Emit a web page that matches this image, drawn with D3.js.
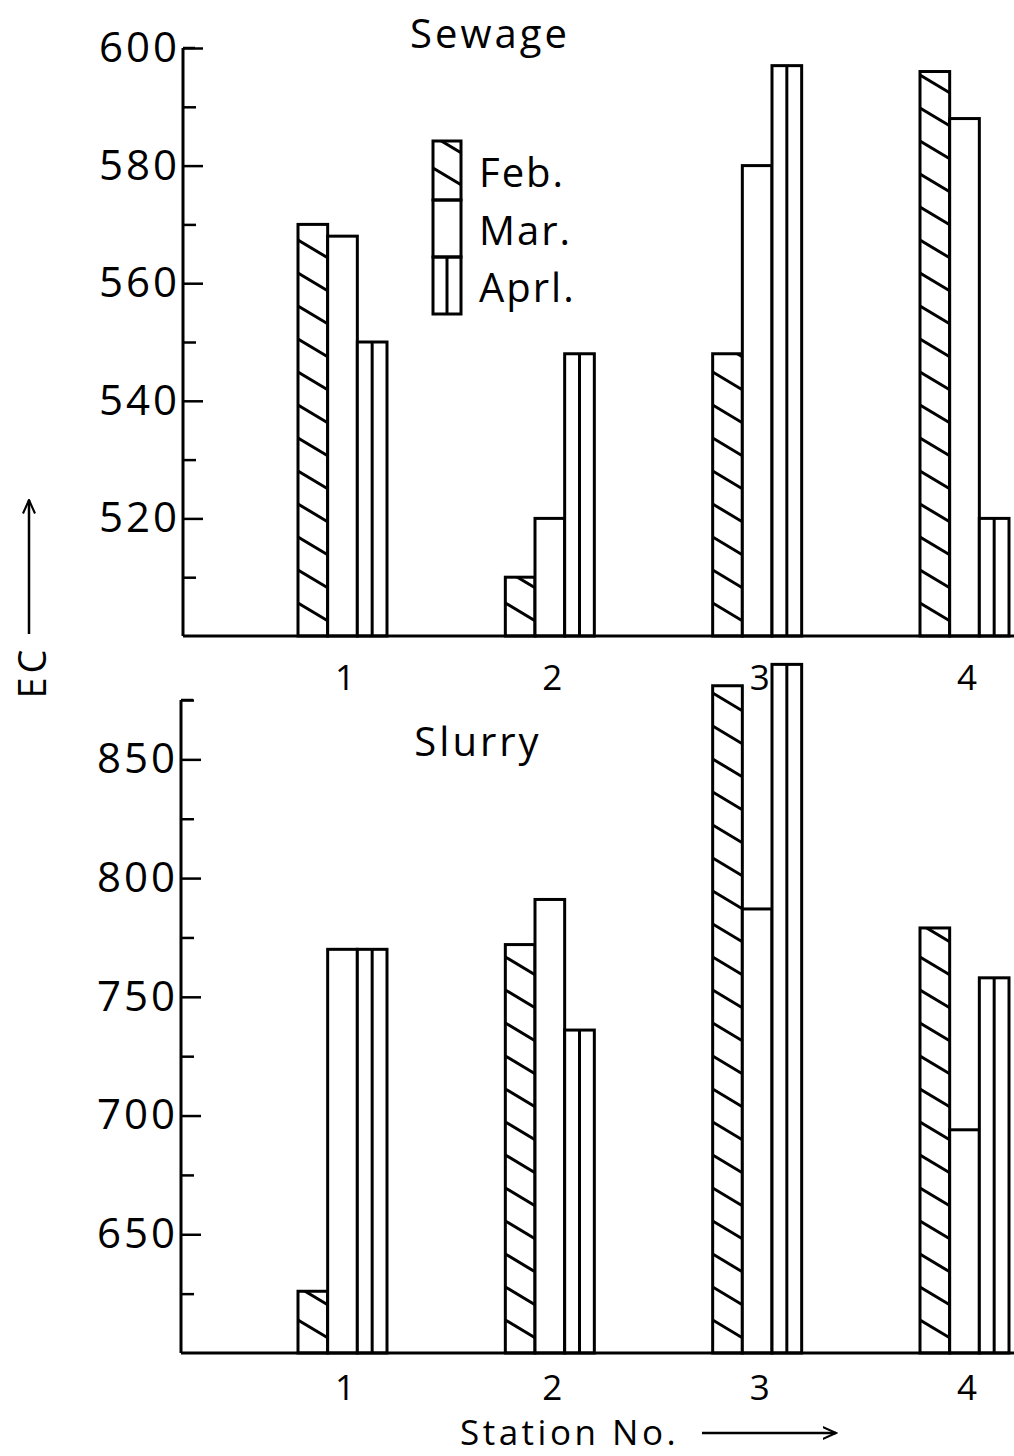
<!DOCTYPE html>
<html>
<head>
<meta charset="utf-8">
<script src="https://cdn.jsdelivr.net/npm/d3@7"></script>
<style>
  html, body { margin: 0; padding: 0; background: #fff; }
  svg { display: block; }
  text { font-family: "Open Sans", "DejaVu Sans", sans-serif; fill: #000; }
</style>
</head>
<body>
<svg id="chart" width="1014" height="1456"></svg>
<script>
// EC of sewage and slurry at four stations, February to April
const stations = ["1", "2", "3", "4"];
const months = ["Feb.", "Mar.", "Aprl."];

const sewageFeb = [570, 510, 548, 596];
const sewageMar = [568, 520, 580, 588];
const sewageApr = [550, 548, 597, 520];

const slurryFeb = [626, 772, 881, 779];
const slurryMar = [770, 791, 787, 694];
const slurryApr = [770, 736, 890, 758];

const sewageTicks = [520, 540, 560, 580, 600];
const sewageMinor = [510, 530, 550, 570, 590];
const slurryTicks = [650, 700, 750, 800, 850];
const slurryMinor = [625, 675, 725, 775, 825, 875];

const svg = d3.select("#chart");
const ink = "#000";

// station centres and the three month slots inside each group
const x = d3.scalePoint().domain(stations).range([342, 964]);
const xm = d3.scaleBand().domain(months).range([-44, 45]).padding(0);

const panels = [
  {
    title: "Sewage", titleX: 490, titleY: 32,
    y: d3.scaleLinear().domain([500, 600]).range([636, 48]),
    axisX: 183, baseRight: 1014,
    ticks: sewageTicks, minor: sewageMinor, top: 600,
    series: [sewageFeb, sewageMar, sewageApr],
    labelY: 676
  },
  {
    title: "Slurry", titleX: 478, titleY: 740,
    y: d3.scaleLinear().domain([600, 875]).range([1353, 700]),
    axisX: 181, baseRight: 1014,
    ticks: slurryTicks, minor: slurryMinor, top: 875,
    series: [slurryFeb, slurryMar, slurryApr],
    labelY: 1386
  }
];

let clipId = 0;

function hatch(g, x0, x1, yTop, yBot, step) {
  const id = "clip" + (clipId++);
  g.append("clipPath").attr("id", id)
    .append("rect").attr("x", x0).attr("y", yTop)
    .attr("width", x1 - x0).attr("height", yBot - yTop);
  const drop = (x1 - x0) * 0.6;
  const hg = g.append("g").attr("clip-path", `url(#${id})`);
  hg.selectAll("line").data(d3.range(yBot + drop, yTop - drop, -step))
    .join("line")
    .attr("x1", x0).attr("y1", d => d - drop)
    .attr("x2", x1).attr("y2", d => d)
    .attr("stroke", ink).attr("stroke-width", 3);
}

panels.forEach(p => {
  const g = svg.append("g");
  const y = p.y;
  const base = y(y.domain()[0]);

  // bars
  stations.forEach((s, i) => {
    months.forEach((m, k) => {
      const v = p.series[k][i];
      const x0 = x(s) + xm(m);
      const x1 = x0 + xm.bandwidth();
      const yt = y(v);
      const bg = g.append("g");
      bg.append("rect").attr("x", x0).attr("y", yt)
        .attr("width", x1 - x0).attr("height", base - yt)
        .attr("fill", "#fff");
      if (k === 0) hatch(bg, x0, x1, yt, base, 33);
      if (k === 2) {
        bg.append("line").attr("x1", (x0 + x1) / 2).attr("x2", (x0 + x1) / 2)
          .attr("y1", yt).attr("y2", base)
          .attr("stroke", ink).attr("stroke-width", 3);
      }
      bg.append("rect").attr("x", x0).attr("y", yt)
        .attr("width", x1 - x0).attr("height", base - yt)
        .attr("fill", "none").attr("stroke", ink).attr("stroke-width", 3);
    });
  });

  // baseline
  g.append("line").attr("x1", p.axisX).attr("x2", p.baseRight)
    .attr("y1", base).attr("y2", base)
    .attr("stroke", ink).attr("stroke-width", 3);

  // y axis, ticks pointing into the plot
  const ax = g.append("g").attr("transform", `translate(${p.axisX},0)`);
  ax.call(d3.axisLeft(y).tickValues(p.ticks).tickSizeInner(-20)
      .tickSizeOuter(0).tickPadding(3).tickFormat(d3.format("d")));
  ax.append("g").call(d3.axisLeft(y).tickValues(p.minor).tickSizeInner(-13)
      .tickSizeOuter(0).tickFormat(""));
  ax.selectAll("path.domain").remove();
  ax.append("line").attr("x1", 0).attr("x2", 0)
    .attr("y1", y(p.top)).attr("y2", base)
    .attr("stroke", ink).attr("stroke-width", 3);
  ax.append("line").attr("x1", 0).attr("x2", 12)
    .attr("y1", y(p.top)).attr("y2", y(p.top))
    .attr("stroke", ink).attr("stroke-width", 2.5);
  ax.selectAll(".tick line").attr("stroke", ink).attr("stroke-width", 2.5);
  ax.selectAll(".tick text")
    .style("font-size", "42px").style("letter-spacing", "3px")
    .attr("fill", ink);

  // station numbers
  g.selectAll("text.stn").data(stations).join("text")
    .attr("class", "stn")
    .attr("x", d => x(d) + 3).attr("y", p.labelY)
    .attr("text-anchor", "middle").attr("dominant-baseline", "central")
    .style("font-size", "35px").text(d => d);

  // panel title
  g.append("text").attr("x", p.titleX).attr("y", p.titleY)
    .attr("text-anchor", "middle").attr("dominant-baseline", "central")
    .style("font-size", "40px").style("letter-spacing", "3px").text(p.title);
});

// legend
const lg = svg.append("g");
const lx0 = 433, lx1 = 461;
const ly = [141, 200, 257, 314];
months.forEach((m, k) => {
  const yt = ly[k], yb = ly[k + 1];
  const cell = lg.append("g");
  if (k === 0) hatch(cell, lx0, lx1, yt, yb, 32);
  if (k === 2) {
    cell.append("line").attr("x1", (lx0 + lx1) / 2).attr("x2", (lx0 + lx1) / 2)
      .attr("y1", yt).attr("y2", yb).attr("stroke", ink).attr("stroke-width", 3);
  }
  cell.append("rect").attr("x", lx0).attr("y", yt)
    .attr("width", lx1 - lx0).attr("height", yb - yt)
    .attr("fill", "none").attr("stroke", ink).attr("stroke-width", 3);
  cell.append("text").attr("x", 479).attr("y", (yt + yb) / 2 + 1)
    .attr("dominant-baseline", "central")
    .style("font-size", "40px").style("letter-spacing", "2px").text(m);
});

// axis titles with arrows
svg.append("defs").append("marker")
  .attr("id", "arrow").attr("viewBox", "0 0 10 10")
  .attr("refX", 9).attr("refY", 5)
  .attr("markerWidth", 6).attr("markerHeight", 6)
  .attr("markerUnits", "strokeWidth").attr("orient", "auto")
  .append("path").attr("d", "M0,1 L9,5 L0,9").attr("fill", "none")
  .attr("stroke", ink).attr("stroke-width", 1.4);

svg.append("text").attr("x", 460).attr("y", 1445)
  .style("font-size", "35px").style("letter-spacing", "3.5px").text("Station No.");
svg.append("line").attr("x1", 702).attr("x2", 836).attr("y1", 1433).attr("y2", 1433)
  .attr("stroke", ink).attr("stroke-width", 2.5).attr("marker-end", "url(#arrow)");

svg.append("text")
  .attr("transform", "translate(31,672) rotate(-90)")
  .attr("text-anchor", "middle").attr("dominant-baseline", "central")
  .style("font-size", "38px").style("letter-spacing", "4px").text("EC");
svg.append("line").attr("x1", 29).attr("x2", 29).attr("y1", 634).attr("y2", 500)
  .attr("stroke", ink).attr("stroke-width", 2.5).attr("marker-end", "url(#arrow)");
</script>
</body>
</html>
